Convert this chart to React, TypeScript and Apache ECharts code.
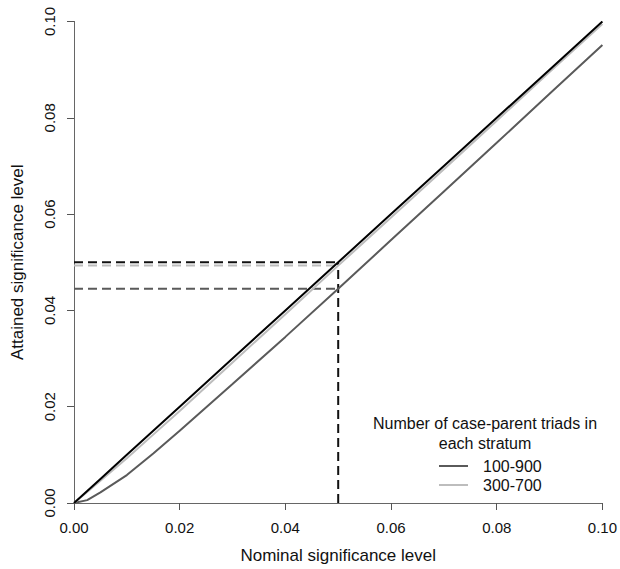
import React, { useEffect, useRef } from "react";
import * as echarts from "echarts";

const nominal = [0, 0.0025, 0.005, 0.01, 0.015, 0.02, 0.03, 0.04, 0.05, 0.06, 0.07, 0.08, 0.09, 0.1];
const identity = [0, 0.0025, 0.005, 0.01, 0.015, 0.02, 0.03, 0.04, 0.05, 0.06, 0.07, 0.08, 0.09, 0.1];
const attained100_900 = [0, 0.0006, 0.0022, 0.0058, 0.0103, 0.015, 0.0247, 0.0345, 0.0445, 0.0546, 0.0647, 0.0748, 0.085, 0.0951];
const attained300_700 = [0, 0.0023, 0.0046, 0.0093, 0.0142, 0.0191, 0.0292, 0.0392, 0.0493, 0.0593, 0.0693, 0.0794, 0.0895, 0.0995];
const alphaLevel = 0.05;
const attainedAtAlpha = { identity: 0.05, s300_700: 0.0493, s100_900: 0.0445 };
const legendTitle = ["Number of case-parent triads in", "each stratum"];
const legendNames = ["100-900", "300-700"];

const FONT = "'Liberation Sans', Arial, sans-serif";
const DARK = "#5a5a5a";
const LIGHT = "#bdbdbd";

export default function App() {
  const ref = useRef<HTMLDivElement>(null);
  useEffect(() => {
    if (!ref.current) return;
    const chart = echarts.init(ref.current, undefined, { renderer: "svg" });
    const pair = (ys: number[]) => nominal.map((x, i) => [x, ys[i]]);
    const dashed = (data: number[][], color: string) => ({
      type: "line",
      data,
      symbol: "none",
      silent: true,
      lineStyle: { color, width: 2, type: [9, 5] },
      z: 1,
    });
    chart.setOption({
      animation: false,
      grid: { left: 74, right: 16, top: 21.5, bottom: 65 },
      xAxis: [
        {
          type: "value",
          min: 0,
          max: 0.1,
          interval: 0.02,
          name: "Nominal significance level",
          nameLocation: "middle",
          nameGap: 44,
          nameTextStyle: { fontFamily: FONT, fontSize: 17, color: "#111" },
          axisLine: { show: true, onZero: false, lineStyle: { color: "#777", width: 1, type: [3, 2] } },
          axisTick: { show: true, length: 7, lineStyle: { color: "#555", width: 1, type: "solid" } },
          axisLabel: { fontFamily: FONT, fontSize: 15, color: "#111", margin: 17, formatter: (v: number) => v.toFixed(2) },
          splitLine: { show: false },
        },
        {
          type: "value",
          position: "top",
          min: 0,
          max: 0.1,
          axisLine: { show: true, lineStyle: { color: "#666", width: 1 } },
          axisTick: { show: false },
          axisLabel: { show: false },
          splitLine: { show: false },
        },
      ],
      yAxis: [
        {
          type: "value",
          min: 0,
          max: 0.1,
          interval: 0.02,
          name: "Attained significance level",
          nameLocation: "middle",
          nameGap: 48,
          nameTextStyle: { fontFamily: FONT, fontSize: 17, color: "#111" },
          axisLine: { show: true, onZero: false, lineStyle: { color: "#666", width: 1 } },
          axisTick: { show: true, length: 7, lineStyle: { color: "#555", width: 1 } },
          axisLabel: { fontFamily: FONT, fontSize: 15, color: "#111", rotate: 90, margin: 17, formatter: (v: number) => v.toFixed(2) },
          splitLine: { show: false },
        },
        {
          type: "value",
          position: "right",
          min: 0,
          max: 0.1,
          axisLine: { show: true, lineStyle: { color: "#666", width: 1 } },
          axisTick: { show: false },
          axisLabel: { show: false },
          splitLine: { show: false },
        },
      ],
      series: [
        dashed([[0, attainedAtAlpha.s100_900], [alphaLevel, attainedAtAlpha.s100_900]], DARK),
        dashed([[0, attainedAtAlpha.s300_700], [alphaLevel, attainedAtAlpha.s300_700]], LIGHT),
        dashed([[0, attainedAtAlpha.identity], [alphaLevel, attainedAtAlpha.identity]], "#111"),
        dashed([[alphaLevel, 0], [alphaLevel, attainedAtAlpha.identity]], "#111"),
        {
          name: legendNames[0],
          type: "line",
          data: pair(attained100_900),
          symbol: "none",
          lineStyle: { color: DARK, width: 2 },
          z: 3,
        },
        {
          name: legendNames[1],
          type: "line",
          data: pair(attained300_700),
          symbol: "none",
          lineStyle: { color: LIGHT, width: 2 },
          z: 3,
        },
        {
          type: "line",
          data: pair(identity),
          symbol: "none",
          lineStyle: { color: "#000", width: 2 },
          z: 4,
        },
      ],
      graphic: [
        {
          type: "text",
          x: 485,
          y: 423,
          style: { text: legendTitle[0], fontFamily: FONT, fontSize: 16, fill: "#111", align: "center", verticalAlign: "middle" },
        },
        {
          type: "text",
          x: 485,
          y: 443,
          style: { text: legendTitle[1], fontFamily: FONT, fontSize: 16, fill: "#111", align: "center", verticalAlign: "middle" },
        },
        { type: "line", shape: { x1: 439, y1: 466, x2: 468, y2: 466 }, style: { stroke: DARK, lineWidth: 2 } },
        { type: "line", shape: { x1: 439, y1: 485, x2: 468, y2: 485 }, style: { stroke: LIGHT, lineWidth: 2 } },
        {
          type: "text",
          x: 483,
          y: 466,
          style: { text: legendNames[0], fontFamily: FONT, fontSize: 16, fill: "#111", align: "left", verticalAlign: "middle" },
        },
        {
          type: "text",
          x: 483,
          y: 485,
          style: { text: legendNames[1], fontFamily: FONT, fontSize: 16, fill: "#111", align: "left", verticalAlign: "middle" },
        },
      ],
    });
    return () => chart.dispose();
  }, []);
  return <div ref={ref} style={{ width: 620, height: 569, position: "absolute", left: 0, top: 0 }} />;
}
